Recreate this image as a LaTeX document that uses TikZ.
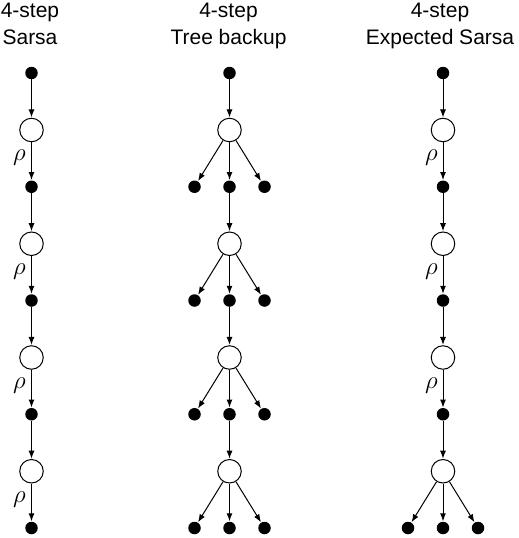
\documentclass[tikz,border=0pt]{standalone}
\usepackage{fontspec}
\setmainfont{Liberation Sans}
\usetikzlibrary{arrows.meta}
\begin{document}
\begin{tikzpicture}[x=1pt,y=-1pt,
  dotnode/.style={circle,fill=black,inner sep=0pt,minimum size=12.5pt},
  opnode/.style={circle,draw=black,line width=1pt,fill=white,inner sep=0pt,minimum size=23.5pt},
  arr/.style={-{Latex[length=8pt,width=6pt]},line width=1pt,shorten >=0.3pt},
  title/.style={font=\fontsize{21}{26}\selectfont,anchor=base,inner sep=0pt},
  rholabel/.style={font=\fontsize{23}{24}\selectfont,inner sep=0pt}]
\useasboundingbox (0,0) rectangle (519,538);
% titles
\node[title] (t1a) at (30,17) {4-step};
\node[title] (t1b) at (30,44) {Sarsa};
\node[title] (t2a) at (228.5,17) {4-step};
\node[title] (t2b) at (228.5,44) {Tree backup};
\node[title] (t3a) at (440,17) {4-step};
\node[title] (t3b) at (440,44) {Expected Sarsa};
% columns
\foreach \col/\x in {L/31.5,M/229.5,R/443}{
  \foreach \k in {0,...,4}{
    \node[dotnode] (\col-d\k) at (\x,{73+113.75*\k}) {};
  }
  \foreach \k in {1,...,4}{
    \node[opnode] (\col-c\k) at (\x,{73+113.75*(\k-1)+57}) {};
  }
}
% Sarsa column
\foreach \k [evaluate=\k as \j using int(\k-1)] in {1,...,4}{
  \draw[arr] (L-d\j) -- (L-c\k);
  \draw[arr] (L-c\k) -- (L-d\k);
  \node[rholabel] (L-rho\k) at (19.5,{73+113.75*(\k-1)+85}) {$\rho$};
}
% Expected Sarsa column
\foreach \k [evaluate=\k as \j using int(\k-1)] in {1,...,4}{
  \draw[arr] (R-d\j) -- (R-c\k);
}
\foreach \k in {1,...,3}{
  \draw[arr] (R-c\k) -- (R-d\k);
  \node[rholabel] (R-rho\k) at (431.5,{73+113.75*(\k-1)+85}) {$\rho$};
}
\node[dotnode] (R-s4a) at (408,528) {};
\node[dotnode] (R-s4b) at (478,528) {};
\draw[arr] (R-c4) -- (R-d4);
\draw[arr] (R-c4) -- (R-s4a);
\draw[arr] (R-c4) -- (R-s4b);
% Tree backup column
\foreach \k [evaluate=\k as \j using int(\k-1)] in {1,...,4}{
  \draw[arr] (M-d\j) -- (M-c\k);
  \node[dotnode] (M-s\k a) at (194.5,{73+113.75*\k}) {};
  \node[dotnode] (M-s\k b) at (264.5,{73+113.75*\k}) {};
  \draw[arr] (M-c\k) -- (M-d\k);
  \draw[arr] (M-c\k) -- (M-s\k a);
  \draw[arr] (M-c\k) -- (M-s\k b);
}
\end{tikzpicture}
\end{document}
